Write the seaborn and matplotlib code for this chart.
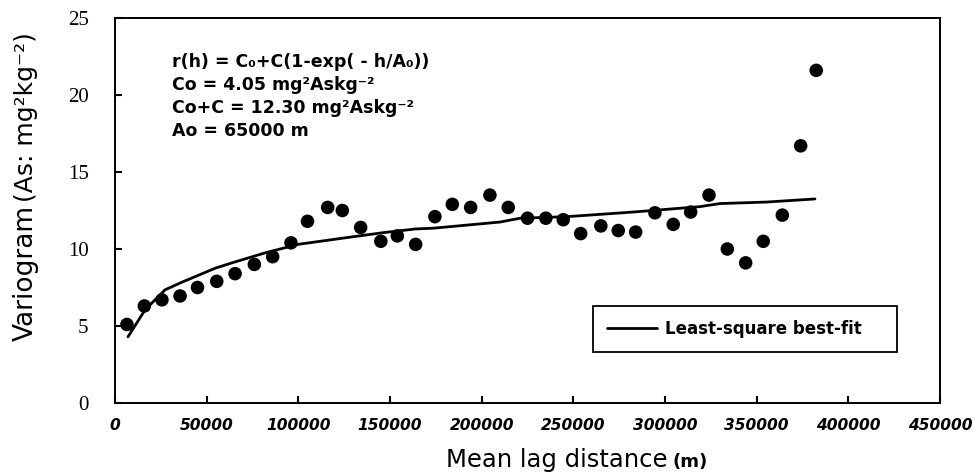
import matplotlib
matplotlib.use("Agg")
import matplotlib.pyplot as plt
import matplotlib.transforms as mtransforms
import seaborn as sns
import pandas as pd

# Experimental variogram points
lag_m = [6500, 16000, 25600, 35500, 45000, 55500, 65500, 76000, 86000, 96000,
         105000, 116000, 124000, 134000, 145000, 154000, 164000, 174500, 184000,
         194000, 204500, 214500, 225000, 235000, 244500, 254000, 265000, 274500,
         284000, 294500, 304500, 314000, 324000, 334000, 344000, 353600, 364000,
         374000, 382500]
gamma = [5.1, 6.3, 6.7, 6.95, 7.5, 7.9, 8.4, 9.0, 9.5, 10.4,
         11.8, 12.7, 12.5, 11.4, 10.5, 10.85, 10.3, 12.1, 12.9,
         12.7, 13.5, 12.7, 12.0, 12.0, 11.9, 11.0, 11.5, 11.2,
         11.1, 12.35, 11.6, 12.4, 13.5, 10.0, 9.1, 10.5, 12.2,
         16.7, 21.6]

# Least-square best-fit curve
fit_x = [7100, 16400, 27300, 36600, 54600, 63800, 81900, 99800, 127000, 145600,
         163700, 173500, 210000, 221000, 246500, 282600, 319000, 330000, 355600, 381800]
fit_y = [4.3, 6.05, 7.35, 7.85, 8.75, 9.1, 9.75, 10.3, 10.75, 11.05,
         11.3, 11.35, 11.75, 12.0, 12.1, 12.4, 12.75, 12.95, 13.05, 13.25]

x_ticks = [0, 50000, 100000, 150000, 200000, 250000, 300000, 350000, 400000, 450000]
y_ticks = [0, 5, 10, 15, 20, 25]

annot_lines = ["r(h) = C\u2080+C(1-exp( - h/A\u2080))",
               "Co = 4.05 mg\u00b2Askg\u207b\u00b2",
               "Co+C = 12.30 mg\u00b2Askg\u207b\u00b2",
               "Ao = 65000 m"]

sns.set_theme(style="white")
plt.rcParams['font.family'] = ['DejaVu Sans']
plt.rcParams['text.color'] = 'black'

pts = pd.DataFrame({"lag": lag_m, "gamma": gamma})
fit = pd.DataFrame({"lag": fit_x, "gamma": fit_y})

fig = plt.figure(figsize=(9.73, 4.74), dpi=100)
ax = fig.add_axes([115/973, 1-403/474, 825/973, 385/474])

sns.lineplot(data=fit, x="lag", y="gamma", ax=ax, color="black", lw=2.0,
             label="Least-square best-fit", sort=False, estimator=None)
sns.scatterplot(data=pts, x="lag", y="gamma", ax=ax, color="black", s=95,
                edgecolor="none", marker="o", zorder=3)

ax.set_xlim(0, 450000)
ax.set_ylim(0, 25)
ax.set_xticks(x_ticks)
ax.set_xticklabels([str(v) for v in x_ticks], fontsize=11.2, fontweight="bold",
                   fontstyle="oblique")
shift = mtransforms.ScaledTranslation(-5/100, 0, fig.dpi_scale_trans)
for lbl in ax.get_xticklabels():
    lbl.set_transform(lbl.get_transform() + shift)
ax.set_yticks(y_ticks)
ax.set_yticklabels([str(v) for v in y_ticks], fontsize=15, family="Liberation Serif")
ax.tick_params(axis="x", direction="in", length=5, width=1.5, pad=11, colors="black",
               top=False, bottom=True)
ax.tick_params(axis="y", direction="in", length=5, width=1.5, pad=19, colors="black",
               left=True, right=False)
for sp in ax.spines.values():
    sp.set_color("black")
    sp.set_linewidth(1.4)
    sp.set_visible(True)

ax.set_xlabel("")
ax.set_ylabel("")

# Axis titles
ax.text((667-115)/825, (403-467)/385, "Mean lag distance", transform=ax.transAxes,
        ha="right", va="baseline", fontsize=17.5, color="black", clip_on=False)
ax.text((673-115)/825, (403-467)/385, "(m)", transform=ax.transAxes,
        ha="left", va="baseline", fontsize=13, fontweight="bold", color="black",
        clip_on=False)
ax.text((33-115)/825, (403-205)/385, "Variogram", transform=ax.transAxes,
        rotation=90, rotation_mode="anchor", ha="right", va="baseline",
        fontsize=19, color="black", clip_on=False)
ax.text((33-115)/825, (403-202)/385, "(As: mg\u00b2kg\u207b\u00b2)", transform=ax.transAxes,
        rotation=90, rotation_mode="anchor", ha="left", va="baseline",
        fontsize=18, color="black", clip_on=False)

# Model annotation
for i, line in enumerate(annot_lines):
    ax.text((172-115)/825, (403-(62+23*i))/385, line, transform=ax.transAxes,
            ha="left", va="center", fontsize=12.5, fontweight="bold", color="black")

x0, x1 = (593-115)/825, (897-115)/825
y0, y1 = (403-352)/385, (403-306)/385
leg = ax.legend(loc="center", bbox_to_anchor=(x0, y0, x1-x0, y1-y0), mode="expand",
                borderaxespad=0, frameon=True, fancybox=False, edgecolor="black",
                framealpha=1, prop={"weight": "bold", "size": 12}, handlelength=3.0,
                handletextpad=0.45, borderpad=0.85, labelcolor="black")
leg.get_frame().set_linewidth(1.3)

fig.savefig("out.png", dpi=100)
